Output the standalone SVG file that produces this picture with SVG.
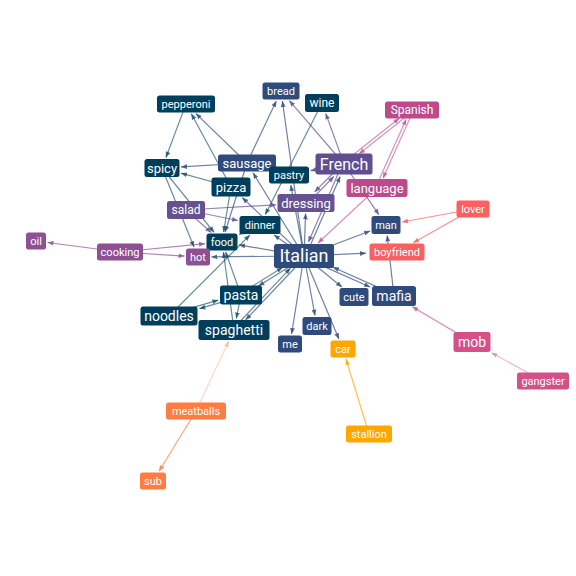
<svg xmlns="http://www.w3.org/2000/svg" width="576" height="576" viewBox="0 0 576 576">
<style>
.e{fill:none;stroke-width:1.2}
.navy{stroke:#2f4b7c;stroke-opacity:.7}
.teal{stroke:#003f5c;stroke-opacity:.6}
.fr{stroke:#5f4f8f;stroke-opacity:.7}
.sal{stroke:#665191;stroke-opacity:.7}
.cook{stroke:#8e4f93;stroke-opacity:.7}
.mag{stroke:#bc4a8c;stroke-opacity:.6}
.cor{stroke:#f9605f;stroke-opacity:.7}
.pk{stroke:#d45087;stroke-opacity:.7}
.pk2{stroke:#d45087;stroke-opacity:.4}
.or{stroke:#ff7c43;stroke-opacity:.7}
.or2{stroke:#ff7c43;stroke-opacity:.3}
.ye{stroke:#ffa600;stroke-opacity:.7}
.n rect{rx:2.5;ry:2.5}
.n text{fill:#fff;font-family:Roboto,"Liberation Sans",sans-serif;text-anchor:middle}
</style>
<defs>
<marker id="a-navy" markerUnits="userSpaceOnUse" markerWidth="6" markerHeight="5" refX="6" refY="2.5" orient="auto"><path d="M0,0L6,2.5L0,5z" fill="#2f4b7c" fill-opacity=".8"/></marker>
<marker id="a-teal" markerUnits="userSpaceOnUse" markerWidth="6" markerHeight="5" refX="6" refY="2.5" orient="auto"><path d="M0,0L6,2.5L0,5z" fill="#003f5c" fill-opacity=".7"/></marker>
<marker id="a-fr" markerUnits="userSpaceOnUse" markerWidth="6" markerHeight="5" refX="6" refY="2.5" orient="auto"><path d="M0,0L6,2.5L0,5z" fill="#5f4f8f" fill-opacity=".8"/></marker>
<marker id="a-sal" markerUnits="userSpaceOnUse" markerWidth="6" markerHeight="5" refX="6" refY="2.5" orient="auto"><path d="M0,0L6,2.5L0,5z" fill="#665191" fill-opacity=".8"/></marker>
<marker id="a-cook" markerUnits="userSpaceOnUse" markerWidth="6" markerHeight="5" refX="6" refY="2.5" orient="auto"><path d="M0,0L6,2.5L0,5z" fill="#8e4f93" fill-opacity=".8"/></marker>
<marker id="a-mag" markerUnits="userSpaceOnUse" markerWidth="6" markerHeight="5" refX="6" refY="2.5" orient="auto"><path d="M0,0L6,2.5L0,5z" fill="#bc4a8c" fill-opacity=".7"/></marker>
<marker id="a-cor" markerUnits="userSpaceOnUse" markerWidth="6" markerHeight="5" refX="6" refY="2.5" orient="auto"><path d="M0,0L6,2.5L0,5z" fill="#f9605f" fill-opacity=".8"/></marker>
<marker id="a-pk" markerUnits="userSpaceOnUse" markerWidth="6" markerHeight="5" refX="6" refY="2.5" orient="auto"><path d="M0,0L6,2.5L0,5z" fill="#d45087" fill-opacity=".8"/></marker>
<marker id="a-pk2" markerUnits="userSpaceOnUse" markerWidth="6" markerHeight="5" refX="6" refY="2.5" orient="auto"><path d="M0,0L6,2.5L0,5z" fill="#d45087" fill-opacity=".5"/></marker>
<marker id="a-or" markerUnits="userSpaceOnUse" markerWidth="6" markerHeight="5" refX="6" refY="2.5" orient="auto"><path d="M0,0L6,2.5L0,5z" fill="#ff7c43" fill-opacity=".8"/></marker>
<marker id="a-or2" markerUnits="userSpaceOnUse" markerWidth="6" markerHeight="5" refX="6" refY="2.5" orient="auto"><path d="M0,0L6,2.5L0,5z" fill="#ff7c43" fill-opacity=".4"/></marker>
<marker id="a-ye" markerUnits="userSpaceOnUse" markerWidth="6" markerHeight="5" refX="6" refY="2.5" orient="auto"><path d="M0,0L6,2.5L0,5z" fill="#ffa600" fill-opacity=".8"/></marker>
</defs>
<rect width="576" height="576" fill="#fff"/>
<g id="edges">
<!-- teal sources -->
<path class="e teal" marker-end="url(#a-teal)" d="M186,104L165.9,157.6"/>
<path class="e teal" marker-end="url(#a-teal)" d="M231,187L191.3,113.8"/>
<path class="e teal" marker-end="url(#a-teal)" d="M231,187L181,173.2"/>
<path class="e teal" marker-end="url(#a-teal)" d="M231,187L223.6,232"/>
<path class="e teal" marker-end="url(#a-teal)" d="M162,168L214.1,232.3"/>
<path class="e teal" marker-end="url(#a-teal)" d="M162,168L194,247.1"/>
<path class="e teal" marker-end="url(#a-teal)" d="M322,103L265.3,214.6"/>
<path class="e teal" marker-end="url(#a-teal)" d="M241,295L236.3,318.5"/>
<path class="e teal" marker-end="url(#a-teal)" d="M241.4,296.4L199.4,308.7"/>
<path class="e teal" marker-end="url(#a-teal)" d="M168.6,314.6L218.3,300.1"/>
<path class="e teal" marker-end="url(#a-teal)" d="M169,316L249.9,235.1"/>
<path class="e teal" marker-end="url(#a-teal)" d="M240.2,293.7L282.5,267.5"/>
<path class="e teal" marker-end="url(#a-teal)" d="M232.9,329L290.5,268.1"/>
<path class="e teal" marker-end="url(#a-teal)" d="M241,295L225.6,251.9"/>
<path class="e teal" marker-end="url(#a-teal)" d="M234,330L223.4,252"/>
<path class="e teal" marker-end="url(#a-teal)" d="M260,225L239,234.4"/>
<!-- navy sources -->
<path class="e navy" marker-end="url(#a-navy)" d="M247,163L195.9,113.6"/>
<path class="e navy" marker-end="url(#a-navy)" d="M247,163L181,166.9"/>
<path class="e navy" marker-end="url(#a-navy)" d="M247,163L276.3,100.9"/>
<path class="e navy" marker-end="url(#a-navy)" d="M247,163L225.1,232"/>
<path class="e navy" marker-end="url(#a-navy)" d="M304,256L282.4,101"/>
<path class="e navy" marker-end="url(#a-navy)" d="M304,256L370.1,231"/>
<path class="e navy" marker-end="url(#a-navy)" d="M394,296L387.2,235.5"/>
<path class="e navy" marker-end="url(#a-navy)" d="M304,256L366,253.2"/>
<path class="e navy" marker-end="url(#a-navy)" d="M304,256L341.9,287"/>
<path class="e navy" marker-end="url(#a-navy)" d="M303.4,257.4L370.1,287"/>
<path class="e navy" marker-end="url(#a-navy)" d="M394.6,294.6L333,267.2"/>
<path class="e navy" marker-end="url(#a-navy)" d="M304,256L315,315.5"/>
<path class="e navy" marker-end="url(#a-navy)" d="M304,256L291.6,334"/>
<path class="e navy" marker-end="url(#a-navy)" d="M304,256L338.9,339.1"/>
<path class="e navy" marker-end="url(#a-navy)" d="M305.1,257L245.6,319.9"/>
<path class="e navy" marker-end="url(#a-navy)" d="M304.8,257.3L258.4,286"/>
<path class="e navy" marker-end="url(#a-navy)" d="M304,256L239,244.9"/>
<path class="e navy" marker-end="url(#a-navy)" d="M304,256L211.5,256.9"/>
<path class="e navy" marker-end="url(#a-navy)" d="M304,256L274,234.9"/>
<path class="e navy" marker-end="url(#a-navy)" d="M304,256L305.6,213.5"/>
<path class="e navy" marker-end="url(#a-navy)" d="M305.4,256.6L340.2,176.5"/>
<path class="e navy" marker-end="url(#a-navy)" d="M304,256L290.8,185"/>
<path class="e navy" marker-end="url(#a-navy)" d="M304,256L242.2,197.6"/>
<path class="e navy" marker-end="url(#a-navy)" d="M304,256L253,172.8"/>
<!-- French -->
<path class="e fr" marker-end="url(#a-fr)" d="M344,164L289.3,100.6"/>
<path class="e fr" marker-end="url(#a-fr)" d="M344,164L325.7,113.4"/>
<path class="e fr" marker-end="url(#a-fr)" d="M344,164L310.5,170.7"/>
<path class="e fr" marker-end="url(#a-fr)" d="M344,164L379,214.8"/>
<path class="e fr" marker-end="url(#a-fr)" d="M342.6,163.4L308.4,242.1"/>
<path class="e fr" marker-end="url(#a-fr)" d="M342.9,163L314.7,191.9"/>
<!-- salad / dressing -->
<path class="e sal" marker-end="url(#a-sal)" d="M307.1,204L333.9,176.5"/>
<path class="e sal" marker-end="url(#a-sal)" d="M186,210L211.3,232.5"/>
<path class="e sal" marker-end="url(#a-sal)" d="M186,210L238,220.5"/>
<path class="e sal" marker-end="url(#a-sal)" d="M186,210L276,204.8"/>
<!-- cooking -->
<path class="e cook" marker-end="url(#a-cook)" d="M120,252L47.5,242.5"/>
<path class="e cook" marker-end="url(#a-cook)" d="M120,252L205,243.7"/>
<path class="e cook" marker-end="url(#a-cook)" d="M120,252L184.5,256.1"/>
<!-- Spanish / language -->
<path class="e mag" marker-end="url(#a-mag)" d="M412.9,111.2L359.2,153.8"/>
<path class="e mag" marker-end="url(#a-mag)" d="M343.1,162.8L399.3,118.2"/>
<path class="e mag" marker-end="url(#a-mag)" d="M413.4,110.6L383,178.2"/>
<path class="e mag" marker-end="url(#a-mag)" d="M375.6,187.4L406.2,119.2"/>
<path class="e mag" marker-end="url(#a-mag)" d="M377,188L318,243"/>
<!-- lover -->
<path class="e cor" marker-end="url(#a-cor)" d="M473,209L402,222"/>
<path class="e cor" marker-end="url(#a-cor)" d="M473,209L413.3,242.8"/>
<!-- mob -->
<path class="e pk" marker-end="url(#a-pk)" d="M472,342L412.3,306.8"/>
<path class="e pk2" marker-end="url(#a-pk2)" d="M543,381L491.5,352.7"/>
<!-- meatballs / stallion -->
<path class="e or2" marker-end="url(#a-or2)" d="M196,411L228.7,341.3"/>
<path class="e or" marker-end="url(#a-or)" d="M196,411L159,471.3"/>
<path class="e ye" marker-end="url(#a-ye)" d="M369,434L346,359"/>
</g>
<g id="n-pepperoni" class="n"><rect x="157" y="95.5" width="58" height="17" fill="#003f5c"/><text x="186" y="104" dy="0.36em" font-size="11">pepperoni</text></g>
<g id="n-bread" class="n"><rect x="262.5" y="82.5" width="37" height="17" fill="#2f4b7c"/><text x="281" y="91" dy="0.36em" font-size="11">bread</text></g>
<g id="n-wine" class="n"><rect x="305" y="94" width="34" height="18" fill="#003f5c"/><text x="322" y="103" dy="0.36em" font-size="12">wine</text></g>
<g id="n-Spanish" class="n"><rect x="385" y="101.5" width="54" height="17" fill="#bc4a8c"/><text x="412" y="110" dy="0.36em" font-size="12">Spanish</text></g>
<g id="n-spicy" class="n"><rect x="144.5" y="159" width="35" height="18" fill="#003f5c"/><text x="162" y="168" dy="0.36em" font-size="13">spicy</text></g>
<g id="n-sausage" class="n"><rect x="218" y="154.5" width="58" height="17" fill="#2f4b7c"/><text x="247" y="163" dy="0.36em" font-size="13">sausage</text></g>
<g id="n-pastry" class="n"><rect x="269" y="166.5" width="40" height="17" fill="#003f5c"/><text x="289" y="175" dy="0.36em" font-size="11">pastry</text></g>
<g id="n-French" class="n"><rect x="315.5" y="153.5" width="57" height="21" fill="#5f4f8f"/><text x="344" y="164" dy="0.36em" font-size="16">French</text></g>
<g id="n-pizza" class="n"><rect x="211.5" y="177.5" width="39" height="19" fill="#003f5c"/><text x="231" y="187" dy="0.36em" font-size="13">pizza</text></g>
<g id="n-language" class="n"><rect x="346.5" y="179" width="61" height="18" fill="#bc4a8c"/><text x="377" y="188" dy="0.36em" font-size="13">language</text></g>
<g id="n-salad" class="n"><rect x="167" y="201" width="38" height="18" fill="#665191"/><text x="186" y="210" dy="0.36em" font-size="12">salad</text></g>
<g id="n-dressing" class="n"><rect x="277.5" y="194" width="57" height="18" fill="#665191"/><text x="306" y="203" dy="0.36em" font-size="13">dressing</text></g>
<g id="n-dinner" class="n"><rect x="239.5" y="216" width="41" height="18" fill="#003f5c"/><text x="260" y="225" dy="0.36em" font-size="11">dinner</text></g>
<g id="n-man" class="n"><rect x="371.5" y="216" width="29" height="18" fill="#2f4b7c"/><text x="386" y="225" dy="0.36em" font-size="11">man</text></g>
<g id="n-lover" class="n"><rect x="456.5" y="200.5" width="33" height="17" fill="#f9605f"/><text x="473" y="209" dy="0.36em" font-size="11">lover</text></g>
<g id="n-oil" class="n"><rect x="26" y="232.5" width="20" height="17" fill="#8e4f93"/><text x="36" y="241" dy="0.36em" font-size="11">oil</text></g>
<g id="n-cooking" class="n"><rect x="97" y="243.5" width="46" height="17" fill="#8e4f93"/><text x="120" y="252" dy="0.36em" font-size="11">cooking</text></g>
<g id="n-food" class="n"><rect x="206.5" y="233.5" width="31" height="17" fill="#003f5c"/><text x="222" y="242" dy="0.36em" font-size="11">food</text></g>
<g id="n-hot" class="n"><rect x="186" y="248.5" width="24" height="17" fill="#8e4f93"/><text x="198" y="257" dy="0.36em" font-size="11">hot</text></g>
<g id="n-Italian" class="n"><rect x="274" y="244" width="60" height="24" fill="#2f4b7c"/><text x="304" y="256" dy="0.36em" font-size="18">Italian</text></g>
<g id="n-boyfriend" class="n"><rect x="369.5" y="243.5" width="55" height="17" fill="#f9605f"/><text x="397" y="252" dy="0.36em" font-size="11">boyfriend</text></g>
<g id="n-pasta" class="n"><rect x="220" y="285.5" width="42" height="19" fill="#003f5c"/><text x="241" y="295" dy="0.36em" font-size="14">pasta</text></g>
<g id="n-noodles" class="n"><rect x="140.5" y="306.5" width="57" height="19" fill="#003f5c"/><text x="169" y="316" dy="0.36em" font-size="14">noodles</text></g>
<g id="n-cute" class="n"><rect x="339.5" y="288" width="29" height="18" fill="#2f4b7c"/><text x="354" y="297" dy="0.36em" font-size="11">cute</text></g>
<g id="n-mafia" class="n"><rect x="372" y="286" width="44" height="20" fill="#2f4b7c"/><text x="394" y="296" dy="0.36em" font-size="14">mafia</text></g>
<g id="n-spaghetti" class="n"><rect x="198.5" y="320" width="71" height="20" fill="#003f5c"/><text x="234" y="330" dy="0.36em" font-size="14">spaghetti</text></g>
<g id="n-me" class="n"><rect x="278" y="335.5" width="24" height="17" fill="#2f4b7c"/><text x="290" y="344" dy="0.36em" font-size="11">me</text></g>
<g id="n-dark" class="n"><rect x="302.5" y="317" width="29" height="18" fill="#2f4b7c"/><text x="317" y="326" dy="0.36em" font-size="11">dark</text></g>
<g id="n-car" class="n"><rect x="330.5" y="340.5" width="25" height="17" fill="#ffa600"/><text x="343" y="349" dy="0.36em" font-size="11">car</text></g>
<g id="n-mob" class="n"><rect x="453.5" y="332" width="37" height="20" fill="#d45087"/><text x="472" y="342" dy="0.36em" font-size="14">mob</text></g>
<g id="n-gangster" class="n"><rect x="517" y="372.5" width="52" height="17" fill="#d45087"/><text x="543" y="381" dy="0.36em" font-size="11">gangster</text></g>
<g id="n-meatballs" class="n"><rect x="166" y="402.5" width="60" height="17" fill="#ff7c43"/><text x="196" y="411" dy="0.36em" font-size="11">meatballs</text></g>
<g id="n-stallion" class="n"><rect x="346" y="425.5" width="46" height="17" fill="#ffa600"/><text x="369" y="434" dy="0.36em" font-size="11">stallion</text></g>
<g id="n-sub" class="n"><rect x="140" y="472.5" width="26" height="17" fill="#ff7c43"/><text x="153" y="481" dy="0.36em" font-size="11">sub</text></g>
</svg>
